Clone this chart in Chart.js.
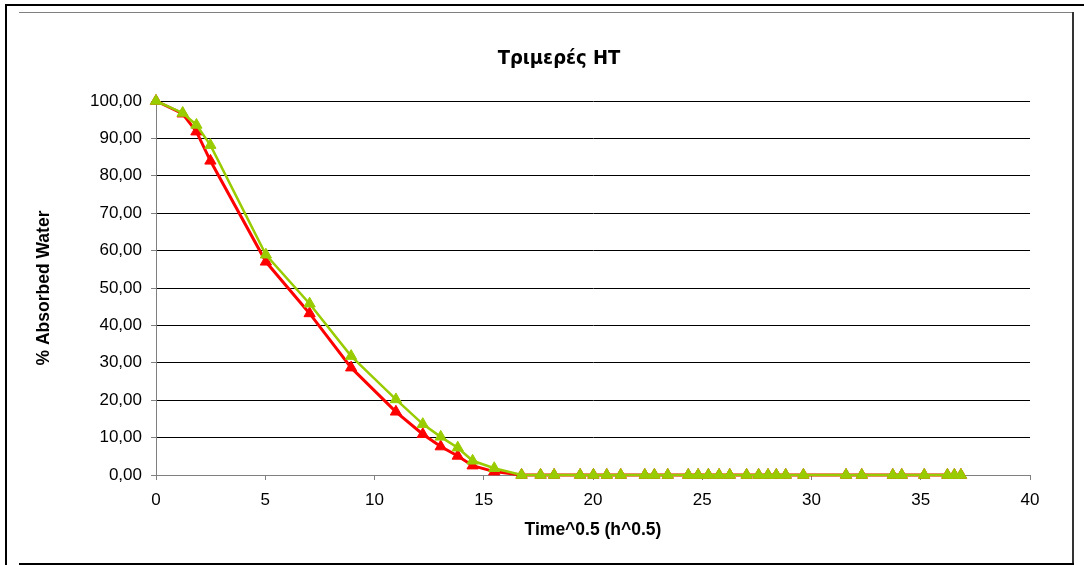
<!DOCTYPE html>
<html>
<head>
<meta charset="utf-8">
<script src="https://cdn.jsdelivr.net/npm/chart.js@4/dist/chart.umd.min.js"></script>
<style>
	body { margin: 0; background: #ffffff; }
	#wrap { position: relative; width: 1084px; height: 565px; overflow: hidden; }
	#chart { position: absolute; left: 0; top: 0; }
	.line { position: absolute; }
</style>
</head>
<body>
<div id="wrap">
	<canvas id="chart" width="1084" height="565"></canvas>
	<div class="line" style="left:5px; top:4px; width:1079px; height:2px; background:#000;"></div>
	<div class="line" style="left:5px; top:4px; width:2px; height:561px; background:#000;"></div>
	<div class="line" style="left:19px; top:12px; width:1054px; height:1px; background:#808080;"></div>
	<div class="line" style="left:1072px; top:12px; width:2px; height:552px; background:#333;"></div>
	<div class="line" style="left:19px; top:563px; width:1055px; height:2px; background:#000;"></div>
</div>
<script>
// time^0.5 values shared by both series
const timeRoot = [0, 1.22, 1.85, 2.49, 5.03, 7.03, 8.93, 10.98, 12.21, 13.03, 13.81, 14.49, 15.48,
	16.73, 17.60, 18.22, 19.41, 20.02, 20.63, 21.27, 22.37, 22.81, 23.42, 24.36, 24.81, 25.28, 25.77,
	26.26, 27.03, 27.58, 28.01, 28.39, 28.82, 29.63, 31.58, 32.30, 33.72, 34.13, 35.16, 36.22, 36.54, 36.84];

const redValues = [100, 96.6, 91.8, 84.0, 57.0, 43.2, 28.7, 16.9, 10.9, 7.6, 5.1, 2.5, 0.9,
	0, 0, 0, 0, 0, 0, 0, 0, 0, 0, 0, 0, 0, 0, 0, 0, 0, 0, 0, 0, 0, 0, 0, 0, 0, 0, 0, 0, 0];

const greenValues = [100, 96.8, 93.6, 88.2, 58.9, 45.8, 31.8, 20.2, 13.6, 10.2, 7.3, 3.8, 1.8,
	0, 0, 0, 0, 0, 0, 0, 0, 0, 0, 0, 0, 0, 0, 0, 0, 0, 0, 0, 0, 0, 0, 0, 0, 0, 0, 0, 0, 0];

const chartTitle = "Τριμερές HT";
const xTitle = "Time^0.5 (h^0.5)";
const yTitle = "% Absorbed Water";

function toPoints(values) {
	return values.map((v, i) => ({"x": timeRoot[i], "y": v}));
}

const tickFont = {"family": "'Liberation Sans', Arial, sans-serif", "size": 17};
const axisTitleFont = {"family": "'Liberation Sans', Arial, sans-serif", "size": 17.5, "weight": "bold"};

new Chart(document.getElementById("chart"), {
	"type": "line",
	"data": {
		"datasets": [
			{
				"label": "red",
				"data": toPoints(redValues),
				"borderColor": "#ff0000",
				"backgroundColor": "#ff0000",
				"borderWidth": 3,
				"pointStyle": "triangle",
				"pointRadius": 6.5,
				"pointBorderWidth": 1,
				"tension": 0,
				"clip": false,
				"order": 2,
			},
			{
				"label": "green",
				"data": toPoints(greenValues),
				"borderColor": "#99cc00",
				"backgroundColor": "#99cc00",
				"borderWidth": 2.5,
				"pointStyle": "triangle",
				"pointRadius": 6.5,
				"pointBorderWidth": 1,
				"tension": 0,
				"clip": false,
				"order": 1,
			},
		],
	},
	"options": {
		"responsive": false,
		"animation": false,
		"layout": {
			"padding": {"left": 34, "right": 0, "top": 47, "bottom": 0},
		},
		"plugins": {
			"legend": {"display": false},
			"tooltip": {"enabled": false},
			"title": {
				"display": true,
				"text": chartTitle,
				"color": "#000000",
				"font": {"family": "'DejaVu Sans Condensed', 'DejaVu Sans', sans-serif", "size": 20, "weight": "bold"},
				"padding": {"top": 0, "bottom": 30},
			},
		},
		"scales": {
			"x": {
				"type": "linear",
				"min": 0,
				"max": 40,
				"ticks": {
					"stepSize": 5,
					"color": "#000000",
					"font": tickFont,
					"padding": 10,
					"maxRotation": 0,
				},
				"grid": {
					"drawOnChartArea": false,
					"drawTicks": true,
					"tickLength": 5,
					"tickColor": "#808080",
				},
				"border": {"color": "#808080", "width": 1},
				"title": {
					"display": true,
					"text": xTitle,
					"color": "#000000",
					"font": axisTitleFont,
					"padding": {"top": 0, "bottom": 24.5},
				},
				"afterFit": function (scale) {
					scale.height = 90;
					scale.paddingRight = 54;
				},
			},
			"y": {
				"type": "linear",
				"min": 0,
				"max": 100,
				"ticks": {
					"stepSize": 10,
					"color": "#000000",
					"font": tickFont,
					"padding": 9,
					"callback": (value) => value.toFixed(2).replace(".", ","),
				},
				"grid": {
					"color": (ctx) => ctx.tick && ctx.tick.value === 0 ? "#808080" : "#000000",
					"lineWidth": 1,
					"drawTicks": true,
					"tickLength": 5,
					"tickColor": "#808080",
				},
				"border": {"color": "#808080", "width": 1},
				"title": {
					"display": true,
					"text": yTitle,
					"color": "#000000",
					"font": axisTitleFont,
					"padding": {"top": 0, "bottom": 0},
				},
				"afterFit": function (scale) {
					scale.width = 122;
				},
			},
		},
	},
});
</script>
</body>
</html>
